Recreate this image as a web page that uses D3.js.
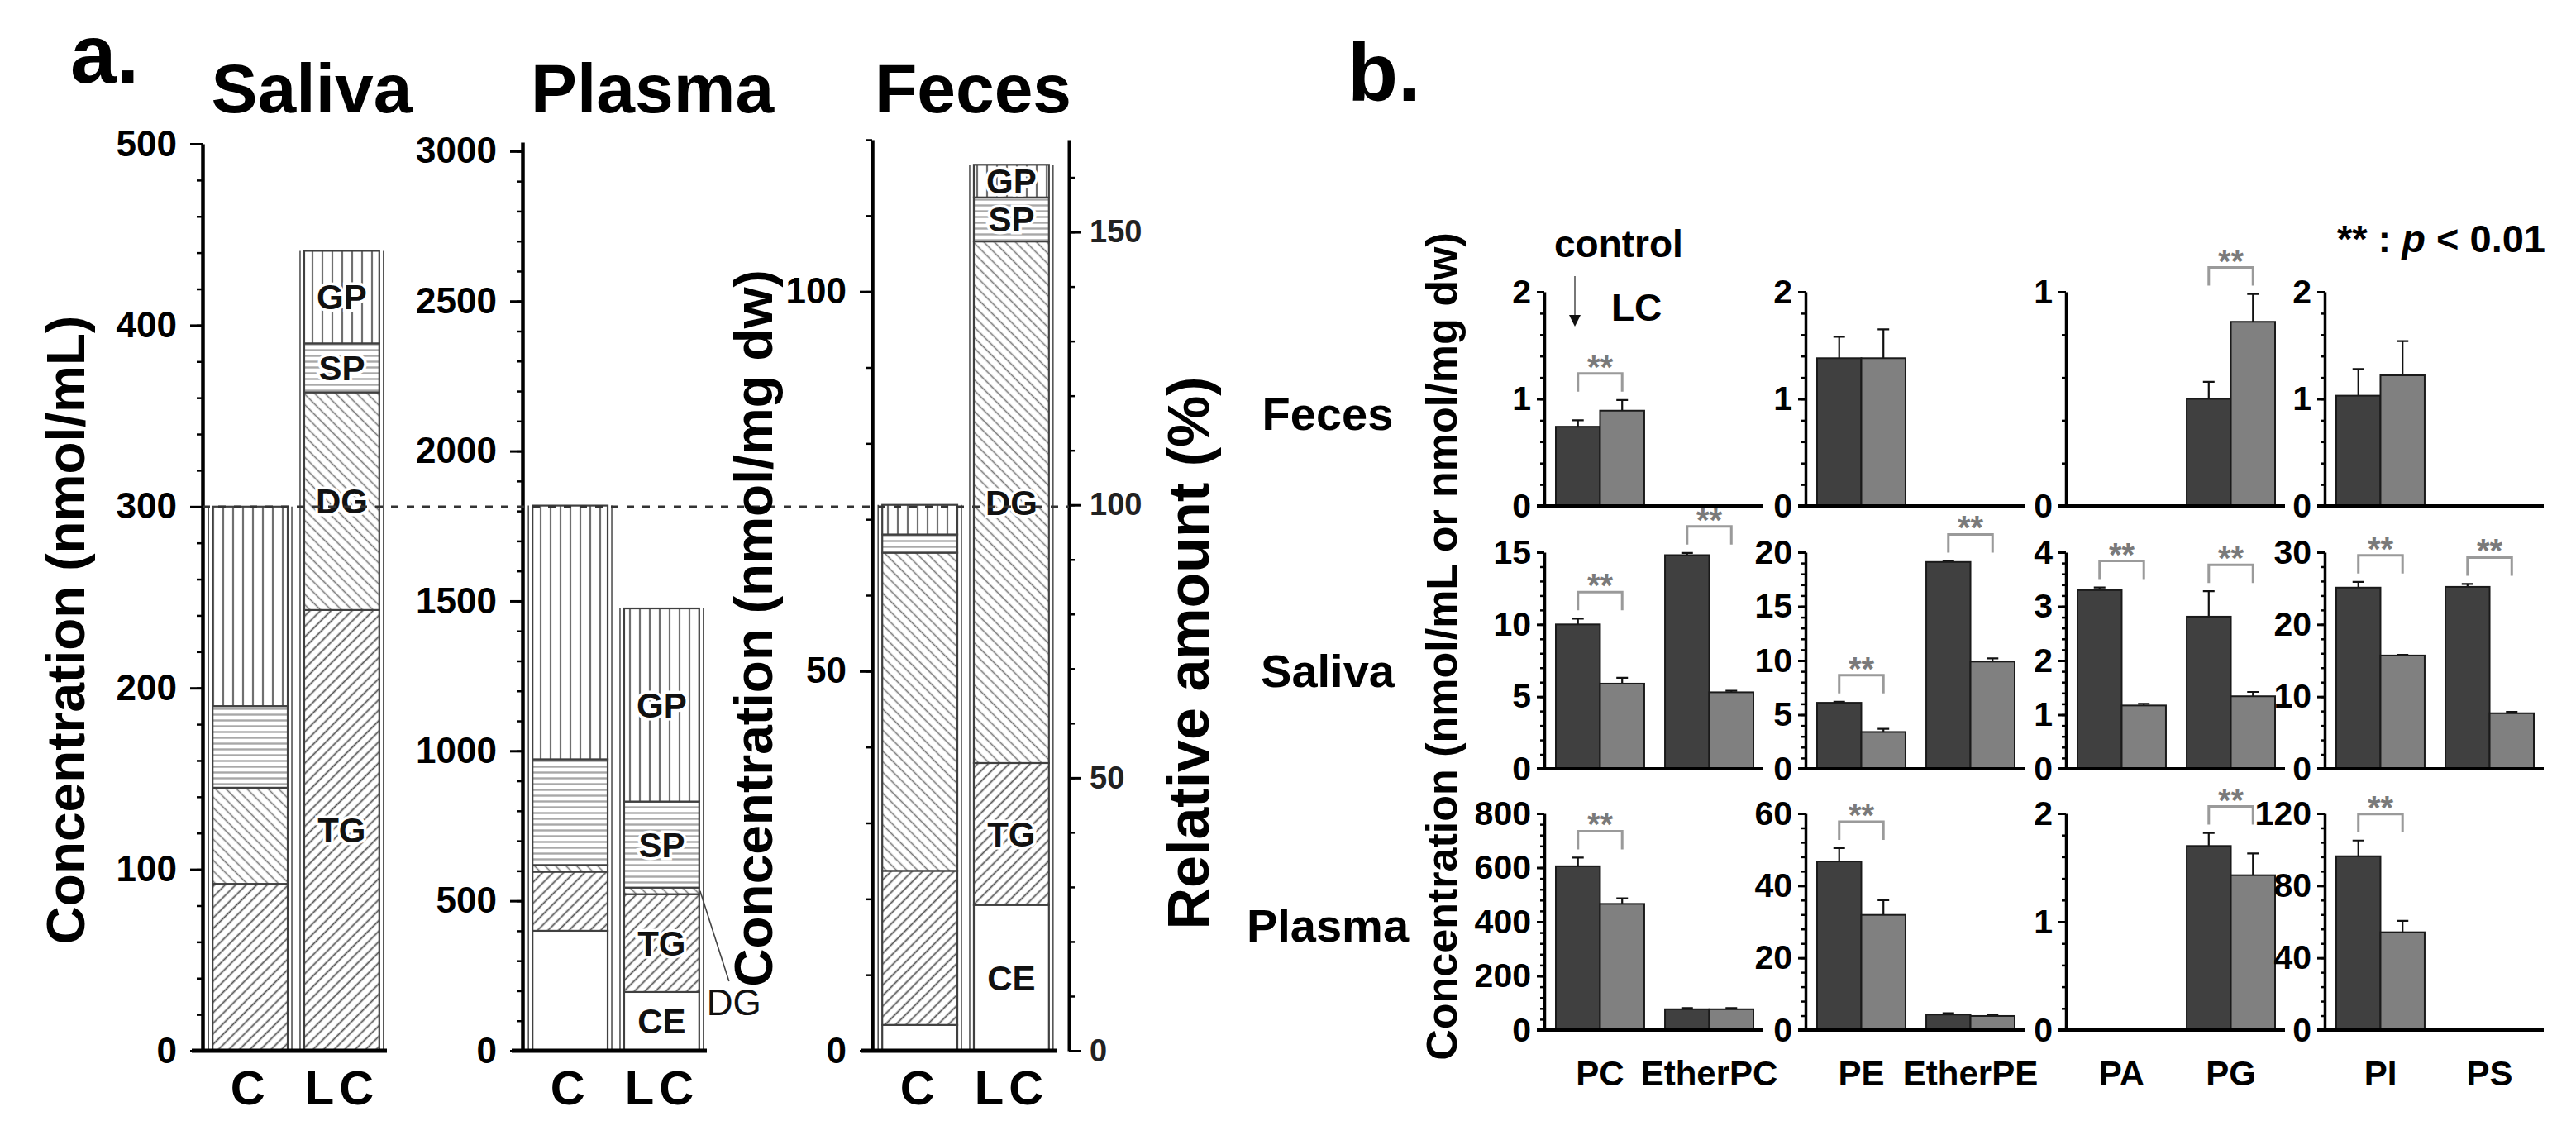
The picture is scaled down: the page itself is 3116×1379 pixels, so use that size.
<!DOCTYPE html>
<html>
<head>
<meta charset="utf-8">
<script src="https://cdn.jsdelivr.net/npm/d3@7"></script>
<style>
  html, body { margin: 0; padding: 0; background: #fff; }
  svg text { font-family: "Liberation Sans", Arial, sans-serif; }
</style>
</head>
<body>
<div id="chart"></div>
<script>
// ---- panel a: stacked lipid classes (bottom -> top) ----
var fractions = ['CE', 'TG', 'DG', 'SP', 'GP'];
var groups = ['C', 'LC'];
var salivaC = [0, 92, 53, 45, 110];
var salivaLC = [0, 243, 120, 27, 51];
var plasmaC = [400, 197, 22, 353, 846];
var plasmaLC = [196, 326, 22, 287, 644];
var fecesC = [3.4, 20.3, 41.9, 2.4, 3.9];
var fecesLC = [19.2, 18.7, 68.7, 5.8, 4.3];
var salivaLabels = ['', 'TG', 'DG', 'SP', 'GP'];
var plasmaLabels = ['CE', 'TG', '', 'SP', 'GP'];
var fecesLabels = ['CE', 'TG', 'DG', 'SP', 'GP'];
var salivaTicks = [0, 100, 200, 300, 400, 500];
var plasmaTicks = [0, 500, 1000, 1500, 2000, 2500, 3000];
var fecesTicks = [0, 50, 100];
var relativeTicks = [0, 50, 100, 150];

// ---- panel b: phospholipid classes ----
var classes = ['PC', 'EtherPC', 'PE', 'EtherPE', 'PA', 'PG', 'PI', 'PS'];
var tissues = ['Feces', 'Saliva', 'Plasma'];
var fecesCtrl = [0.74, null, 1.38, null, null, 0.50, 1.03, null];
var fecesCtrlErr = [0.06, null, 0.20, null, null, 0.08, 0.25, null];
var fecesLCb = [0.89, null, 1.38, null, null, 0.86, 1.22, null];
var fecesLCErr = [0.10, null, 0.27, null, null, 0.13, 0.32, null];
var salivaCtrl = [10.0, 14.8, 6.1, 19.1, 3.30, 2.81, 25.1, 25.2];
var salivaCtrlErr = [0.4, 0.15, 0.1, 0.1, 0.05, 0.47, 0.8, 0.4];
var salivaLCb = [5.9, 5.3, 3.4, 9.9, 1.17, 1.34, 15.7, 7.7];
var salivaLCErr = [0.4, 0.1, 0.3, 0.3, 0.03, 0.08, 0.1, 0.2];
var plasmaCtrl = [605, 77, 46.7, 4.3, null, 1.70, 96.3, null];
var plasmaCtrlErr = [32, 4, 3.7, 0.4, null, 0.12, 8.7, null];
var plasmaLCb = [466, 77, 31.9, 3.9, null, 1.43, 54.2, null];
var plasmaLCErr = [21, 4, 4.1, 0.4, null, 0.20, 6.3, null];
var fecesSig = [1, 0, 0, 0, 0, 1, 0, 0];
var salivaSig = [1, 1, 1, 1, 1, 1, 1, 1];
var plasmaSig = [1, 0, 1, 0, 0, 1, 1, 0];
var fecesMax = [2, 2, 1, 2];
var fecesStep = [1, 1, 1, 1];
var salivaMax = [15, 20, 4, 30];
var salivaStep = [5, 5, 1, 10];
var plasmaMax = [800, 60, 2, 120];
var plasmaStep = [200, 20, 1, 40];

var W = 3116, H = 1379;
var plain = d3.format('');
var svg = d3.select('#chart').append('svg').attr('width', W).attr('height', H)
    .style('background', '#fff');
var defs = svg.append('defs');

var hatch = function (id, size, angle, color, sw) {
  var p = defs.append('pattern').attr('id', id).attr('patternUnits', 'userSpaceOnUse')
      .attr('width', size).attr('height', size);
  if (angle) p.attr('patternTransform', 'rotate(' + angle + ')');
  p.append('rect').attr('width', size).attr('height', size).attr('fill', '#fff');
  p.append('line').attr('x1', size / 2).attr('x2', size / 2).attr('y1', -1).attr('y2', size + 1)
      .attr('stroke', color).attr('stroke-width', sw);
};
hatch('pGP', 12, 0, '#707070', 2.2);
hatch('pSP', 7, 90, '#a8a8a8', 2.4);
hatch('pDG', 9, -45, '#7a7a7a', 1.6);
hatch('pTG', 9, 45, '#555', 1.8);
var fills = {CE: '#fff', TG: 'url(#pTG)', DG: 'url(#pDG)', SP: 'url(#pSP)', GP: 'url(#pGP)'};

var styleAxis = function (g, pathW, tickW, fontSize, weight) {
  g.select('.domain').attr('stroke', '#000').attr('stroke-width', pathW);
  g.selectAll('.tick line').attr('stroke', '#000').attr('stroke-width', tickW);
  g.selectAll('.tick text').attr('fill', '#000').style('font-size', fontSize + 'px')
      .style('font-weight', weight || 'bold');
};

// ================= panel a =================
var aBase = 1271;
var salivaY = d3.scaleLinear().domain([0, 500]).range([aBase, 174]);
var plasmaY = d3.scaleLinear().domain([0, 3030]).range([aBase, 172]);
var fecesY = d3.scaleLinear().domain([0, 120]).range([aBase, 169]);
var relY = d3.scaleLinear().domain([0, 120 / d3.sum(fecesC) * 100]).range([aBase, 169]);

var stackPanel = function (ax, y, cVals, lcVals, labels, ticks, minorStep) {
  var g = svg.append('g');
  var x = d3.scaleBand().domain(groups).range([ax, ax + 226]).paddingInner(0.18).paddingOuter(0.11);
  var bw = x.bandwidth();
  [cVals, lcVals].forEach(function (vals, gi) {
    var tops = d3.cumsum(vals);
    var segs = vals.map(function (v, i) {
      return {k: fractions[i], label: labels[i], y0: tops[i] - v, y1: tops[i]};
    }).filter(function (d) { return d.y1 > d.y0; });
    var bx = x(groups[gi]);
    g.selectAll(null).data(segs).enter().append('rect')
        .attr('x', bx).attr('width', bw)
        .attr('y', function (d) { return y(d.y1); })
        .attr('height', function (d) { return y(d.y0) - y(d.y1); })
        .attr('fill', function (d) { return fills[d.k]; })
        .attr('stroke', '#404040').attr('stroke-width', 2.2);
    // doubled side edges of the bar
    [bx - 5, bx + bw + 5].forEach(function (lx) {
      g.append('line').attr('x1', lx).attr('x2', lx)
          .attr('y1', y(tops[tops.length - 1])).attr('y2', y(0))
          .attr('stroke', '#555').attr('stroke-width', 1.6);
    });
    if (gi === 1) {
      g.selectAll(null).data(segs.filter(function (d) { return d.label; })).enter().append('text')
          .attr('x', bx + bw / 2)
          .attr('y', function (d) { return (y(d.y0) + y(d.y1)) / 2 + 15; })
          .attr('text-anchor', 'middle')
          .style('font-size', '42px').style('font-weight', 'bold')
          .attr('fill', '#111').attr('stroke', '#fff').attr('stroke-width', 7)
          .attr('paint-order', 'stroke')
          .text(function (d) { return d.label; });
    }
  });
  // x axis
  g.append('line').attr('x1', ax - 13).attr('x2', ax + 223).attr('y1', aBase).attr('y2', aBase)
      .attr('stroke', '#000').attr('stroke-width', 5);
  var xa = g.append('g').attr('transform', 'translate(0,' + aBase + ')')
      .call(d3.axisBottom(x).tickSize(0).tickPadding(24));
  xa.select('.domain').remove();
  xa.selectAll('.tick text').style('font-size', '58px').style('font-weight', 'bold')
      .attr('fill', '#000').style('letter-spacing', '6px');
  // y axis
  var ya = g.append('g').attr('transform', 'translate(' + ax + ',0)')
      .call(d3.axisLeft(y).tickValues(ticks).tickFormat(plain).tickSize(15).tickPadding(16).tickSizeOuter(0));
  styleAxis(ya, 4.5, 3, 44);
  var ym = g.append('g').attr('transform', 'translate(' + ax + ',0)')
      .call(d3.axisLeft(y).tickValues(d3.range(0, y.domain()[1] + 1e-6, minorStep))
        .tickSize(7).tickFormat('').tickSizeOuter(0));
  ym.select('.domain').remove();
  ym.selectAll('.tick line').attr('stroke', '#000').attr('stroke-width', 2.5);
  return x;
};

stackPanel(245, salivaY, salivaC, salivaLC, salivaLabels, salivaTicks, 20);
var plasmaX = stackPanel(632, plasmaY, plasmaC, plasmaLC, plasmaLabels, plasmaTicks, 100);
stackPanel(1055, fecesY, fecesC, fecesLC, fecesLabels, fecesTicks, 10);

// plasma LC DG callout
(function () {
  var tops = d3.cumsum(plasmaLC);
  var bx = plasmaX('LC') + plasmaX.bandwidth();
  var my = plasmaY((tops[1] + tops[2]) / 2);
  svg.append('line').attr('x1', bx + 1).attr('y1', my).attr('x2', bx + 36).attr('y2', aBase - 84)
      .attr('stroke', '#444').attr('stroke-width', 1.6);
  svg.append('text').attr('x', bx + 9).attr('y', aBase - 43)
      .style('font-size', '44px').attr('fill', '#111').text('DG');
})();

// feces right axis (relative amount)
(function () {
  var rx = 1293;
  var ra = svg.append('g').attr('transform', 'translate(' + rx + ',0)')
      .call(d3.axisRight(relY).tickValues(relativeTicks).tickFormat(plain).tickSize(15).tickPadding(10).tickSizeOuter(0));
  styleAxis(ra, 4, 3, 38);
  ra.selectAll('.tick text').attr('fill', '#222');
  var rm = svg.append('g').attr('transform', 'translate(' + rx + ',0)')
      .call(d3.axisRight(relY).tickValues(d3.range(0, 161, 10)).tickSize(7).tickFormat('').tickSizeOuter(0));
  rm.select('.domain').remove();
  rm.selectAll('.tick line').attr('stroke', '#000').attr('stroke-width', 2.5);
})();

// 100 % reference line
svg.append('line').attr('x1', 245).attr('x2', 1293)
    .attr('y1', salivaY(d3.sum(salivaC))).attr('y2', salivaY(d3.sum(salivaC)))
    .attr('stroke', '#333').attr('stroke-width', 2.6).attr('stroke-dasharray', '9,10');

// panel a texts
svg.append('text').attr('x', 85).attr('y', 100).style('font-size', '100px').style('font-weight', 'bold').text('a.');
[['Saliva', 377], ['Plasma', 789], ['Feces', 1177]].forEach(function (t) {
  svg.append('text').attr('x', t[1]).attr('y', 136).attr('text-anchor', 'middle')
      .style('font-size', '84px').style('font-weight', 'bold').text(t[0]);
});
var vlabel = function (txt, x, y, size) {
  svg.append('text').attr('transform', 'translate(' + x + ',' + y + ') rotate(-90)')
      .attr('text-anchor', 'middle').style('font-size', size + 'px').style('font-weight', 'bold')
      .text(txt);
};
vlabel('Concentration (nmol/mL)', 102, 762, 64);
vlabel('Concentration (nmol/mg dw)', 934, 760, 64);
vlabel('Relative amount (%)', 1462, 790, 70);

// ================= panel b =================
var colX = [1868, 2184, 2499, 2812];
var rowBase = [612, 930, 1246];
var rowTop = [353, 668, 984];
var ctrlRows = [fecesCtrl, salivaCtrl, plasmaCtrl];
var ctrlErrRows = [fecesCtrlErr, salivaCtrlErr, plasmaCtrlErr];
var lcRows = [fecesLCb, salivaLCb, plasmaLCb];
var lcErrRows = [fecesLCErr, salivaLCErr, plasmaLCErr];
var sigRows = [fecesSig, salivaSig, plasmaSig];
var maxRows = [fecesMax, salivaMax, plasmaMax];
var stepRows = [fecesStep, salivaStep, plasmaStep];

var cell = function (r, c) {
  var x0 = colX[c], base = rowBase[r];
  var maxV = maxRows[r][c], step = stepRows[r][c];
  var y = d3.scaleLinear().domain([0, maxV]).range([base, rowTop[r]]);
  var band = d3.scaleBand().domain(classes.slice(c * 2, c * 2 + 2))
      .range([x0, x0 + 267]).paddingInner(0.19).paddingOuter(0.106);
  var half = band.bandwidth() / 2;
  var g = svg.append('g');
  var bars = [];
  band.domain().forEach(function (cls, j) {
    var k = c * 2 + j;
    if (ctrlRows[r][k] == null) return;
    bars.push({cls: cls, k: k, grp: 0, v: ctrlRows[r][k], e: ctrlErrRows[r][k]});
    bars.push({cls: cls, k: k, grp: 1, v: lcRows[r][k], e: lcErrRows[r][k]});
  });
  var bx = function (d) { return band(d.cls) + d.grp * half; };
  // error bars
  g.selectAll(null).data(bars).enter().append('path')
      .attr('d', function (d) {
        var cx = bx(d) + half / 2, t = y(d.v + d.e);
        return 'M' + cx + ',' + y(d.v) + 'V' + t + 'M' + (cx - 7) + ',' + t + 'H' + (cx + 7);
      })
      .attr('stroke', '#111').attr('stroke-width', 2.2).attr('fill', 'none');
  g.selectAll(null).data(bars).enter().append('rect')
      .attr('x', bx).attr('width', half)
      .attr('y', function (d) { return y(d.v); })
      .attr('height', function (d) { return base - y(d.v); })
      .attr('fill', function (d) { return d.grp ? '#808080' : '#404040'; })
      .attr('stroke', '#1a1a1a').attr('stroke-width', 2);
  // significance brackets
  band.domain().forEach(function (cls, j) {
    var k = c * 2 + j;
    if (!sigRows[r][k] || ctrlRows[r][k] == null) return;
    var top = y(Math.max(ctrlRows[r][k] + ctrlErrRows[r][k], lcRows[r][k] + lcErrRows[r][k])) - 32;
    var x1 = band(cls) + half / 2, x2 = band(cls) + half * 1.5;
    g.append('path').attr('d', 'M' + x1 + ',' + (top + 22) + 'V' + top + 'H' + x2 + 'V' + (top + 22))
        .attr('stroke', '#9a9a9a').attr('stroke-width', 3).attr('fill', 'none');
    g.append('text').attr('x', (x1 + x2) / 2).attr('y', top + 6).attr('text-anchor', 'middle')
        .style('font-size', '40px').style('font-weight', 'bold').attr('fill', '#7a7a7a').text('**');
  });
  // axes
  g.append('line').attr('x1', x0 - 9).attr('x2', x0 + 265).attr('y1', base).attr('y2', base)
      .attr('stroke', '#000').attr('stroke-width', 4);
  var ya = g.append('g').attr('transform', 'translate(' + x0 + ',0)')
      .call(d3.axisLeft(y).tickValues(d3.range(0, maxV + 1e-6, step)).tickFormat(plain)
        .tickSize(9).tickPadding(7).tickSizeOuter(0));
  styleAxis(ya, 3.5, 3, 41);
  var ym = g.append('g').attr('transform', 'translate(' + x0 + ',0)')
      .call(d3.axisLeft(y).tickValues(d3.range(0, maxV + 1e-6, step / 5)).tickSize(5).tickFormat('').tickSizeOuter(0));
  ym.select('.domain').remove();
  ym.selectAll('.tick line').attr('stroke', '#000').attr('stroke-width', 2.5);
  if (r === 2) {
    var xa = g.append('g').attr('transform', 'translate(0,' + base + ')')
        .call(d3.axisBottom(band).tickSize(0).tickPadding(37));
    xa.select('.domain').remove();
    xa.selectAll('.tick text').style('font-size', '42px').style('font-weight', 'bold').attr('fill', '#000');
  }
};
for (var r = 0; r < 3; r++) {
  for (var c = 0; c < 4; c++) cell(r, c);
}

// panel b texts
svg.append('text').attr('x', 1630).attr('y', 122).style('font-size', '100px').style('font-weight', 'bold').text('b.');
var rowLabelY = [520, 831, 1139];
tissues.forEach(function (t, i) {
  svg.append('text').attr('x', 1606).attr('y', rowLabelY[i]).attr('text-anchor', 'middle')
      .style('font-size', '56px').style('font-weight', 'bold').text(t);
});
vlabel('Concentration (nmol/mL or nmol/mg dw)', 1762, 782, 52);

svg.append('text').attr('x', 1880).attr('y', 311).style('font-size', '46px').style('font-weight', 'bold').text('control');
svg.append('line').attr('x1', 1905).attr('x2', 1905).attr('y1', 334).attr('y2', 382)
    .attr('stroke', '#777').attr('stroke-width', 2);
svg.append('path').attr('d', 'M1898,381L1912,381L1905,395Z').attr('fill', '#111');
svg.append('text').attr('x', 1949).attr('y', 388).style('font-size', '46px').style('font-weight', 'bold').text('LC');

var pt = svg.append('text').attr('x', 3079).attr('y', 305).attr('text-anchor', 'end')
    .style('font-size', '47px').style('font-weight', 'bold');
pt.append('tspan').text('** : ');
pt.append('tspan').style('font-style', 'italic').text('p');
pt.append('tspan').text(' < 0.01');
</script>
</body>
</html>
